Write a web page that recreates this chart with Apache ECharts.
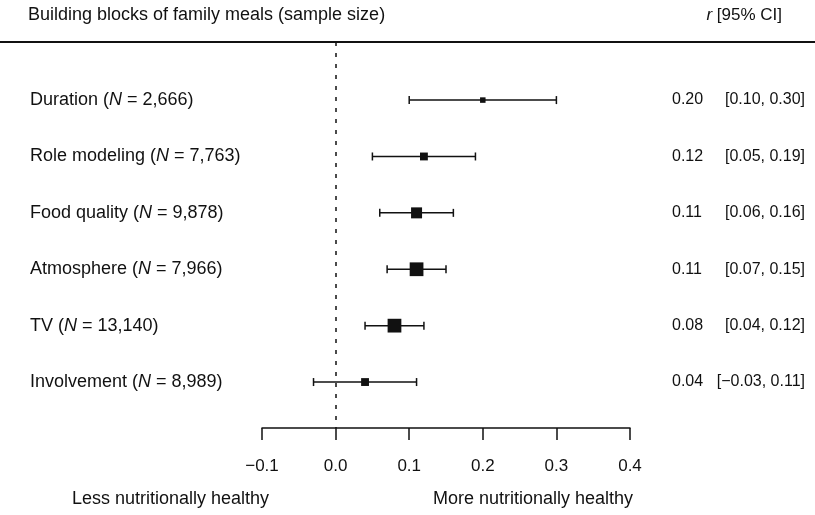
<!DOCTYPE html>
<html><head><meta charset="utf-8">
<script src="https://cdn.jsdelivr.net/npm/echarts@6/dist/echarts.min.js"></script>
<style>html,body{margin:0;padding:0;background:#fff}#c{width:815px;height:515px}</style>
</head><body><div id="c"></div>
<script>
const categories = ['Duration', 'Role modeling', 'Food quality', 'Atmosphere', 'TV', 'Involvement'];
const sampleSizes = ['2,666', '7,763', '9,878', '7,966', '13,140', '8,989'];
const rValues = [0.20, 0.12, 0.11, 0.11, 0.08, 0.04];
const ciLow = [0.10, 0.05, 0.06, 0.07, 0.04, -0.03];
const ciHigh = [0.30, 0.19, 0.16, 0.15, 0.12, 0.11];
const tickLabels = ['\u22120.1', '0.0', '0.1', '0.2', '0.3', '0.4'];

const FONT = '"Liberation Sans", Arial, Helvetica, sans-serif';
const INK = '#111';

function fmt(v) { return (v < 0 ? '\u2212' : '') + Math.abs(v).toFixed(2); }

const data = categories.map((c, i) => [rValues[i], i, ciLow[i], ciHigh[i]]);

const chart = echarts.init(document.getElementById('c'), null, {renderer: 'canvas'});
chart.setOption({
  animation: false,
  backgroundColor: '#fff',
  grid: {left: 262, right: 185, top: 42, bottom: 87},
  xAxis: {
    type: 'value', min: -0.1, max: 0.4, interval: 0.1,
    splitLine: {show: false},
    axisLine: {show: true, onZero: false, lineStyle: {color: INK, width: 1.5}},
    axisTick: {show: true, length: 12, lineStyle: {color: INK, width: 1.5}},
    axisLabel: {
      margin: 30, fontSize: 17, color: INK, fontFamily: FONT,
      formatter: (v, idx) => tickLabels[idx] !== undefined ? tickLabels[idx] : ''
    }
  },
  yAxis: {type: 'value', min: -1.03, max: 5.815, inverse: true, show: false},
  series: [{
    type: 'custom',
    data: data,
    encode: {x: 0, y: 1},
    clip: false,
    renderItem: function (params, api) {
      const idx = params.dataIndex;
      const i = api.value(1);
      const lo = api.value(2), hi = api.value(3);
      const pC = api.coord([api.value(0), i]);
      const pL = api.coord([lo, i]);
      const pH = api.coord([hi, i]);
      const y = pC[1];
      const s = 1.1 / (hi - lo);
      const cap = 4;
      const ls = {stroke: INK, lineWidth: 1.5};
      return {
        type: 'group',
        children: [
          {type: 'line', shape: {x1: pL[0], y1: y, x2: pH[0], y2: y}, style: ls},
          {type: 'line', shape: {x1: pL[0], y1: y - cap, x2: pL[0], y2: y + cap}, style: ls},
          {type: 'line', shape: {x1: pH[0], y1: y - cap, x2: pH[0], y2: y + cap}, style: ls},
          {type: 'rect', shape: {x: pC[0] - s / 2, y: y - s / 2, width: s, height: s}, style: {fill: INK}},
          {type: 'text', x: 30, y: y, style: {
            text: categories[idx] + ' ({i|N} = ' + sampleSizes[idx] + ')',
            fill: INK, font: '18px ' + FONT, verticalAlign: 'middle', align: 'left',
            rich: {i: {fontStyle: 'italic', fontSize: 18, fontFamily: FONT, fill: INK}}
          }},
          {type: 'text', x: 672, y: y, style: {
            text: rValues[idx].toFixed(2), fill: INK, font: '16px ' + FONT,
            verticalAlign: 'middle', align: 'left'
          }},
          {type: 'text', x: 805, y: y, style: {
            text: '[' + fmt(ciLow[idx]) + ', ' + fmt(ciHigh[idx]) + ']', fill: INK, font: '16px ' + FONT,
            verticalAlign: 'middle', align: 'right'
          }}
        ]
      };
    },
    markLine: {
      silent: true, symbol: 'none', label: {show: false},
      lineStyle: {color: INK, width: 1.5, type: [4, 7]},
      data: [{xAxis: 0}]
    }
  }],
  graphic: [
    {type: 'line', shape: {x1: 0, y1: 42, x2: 815, y2: 42}, style: {stroke: INK, lineWidth: 2}},
    {type: 'text', x: 28, y: 15, style: {
      text: 'Building blocks of family meals (sample size)', fill: INK, font: '18px ' + FONT,
      verticalAlign: 'middle', align: 'left'
    }},
    {type: 'text', x: 782, y: 15, style: {
      text: '{i|r} [95% CI]', fill: INK, font: '17px ' + FONT,
      verticalAlign: 'middle', align: 'right',
      rich: {i: {fontStyle: 'italic', fontSize: 17, fontFamily: FONT, fill: INK}}
    }},
    {type: 'text', x: 72, y: 499, style: {
      text: 'Less nutritionally healthy', fill: INK, font: '18px ' + FONT,
      verticalAlign: 'middle', align: 'left'
    }},
    {type: 'text', x: 433, y: 499, style: {
      text: 'More nutritionally healthy', fill: INK, font: '18px ' + FONT,
      verticalAlign: 'middle', align: 'left'
    }}
  ]
});
</script></body></html>
